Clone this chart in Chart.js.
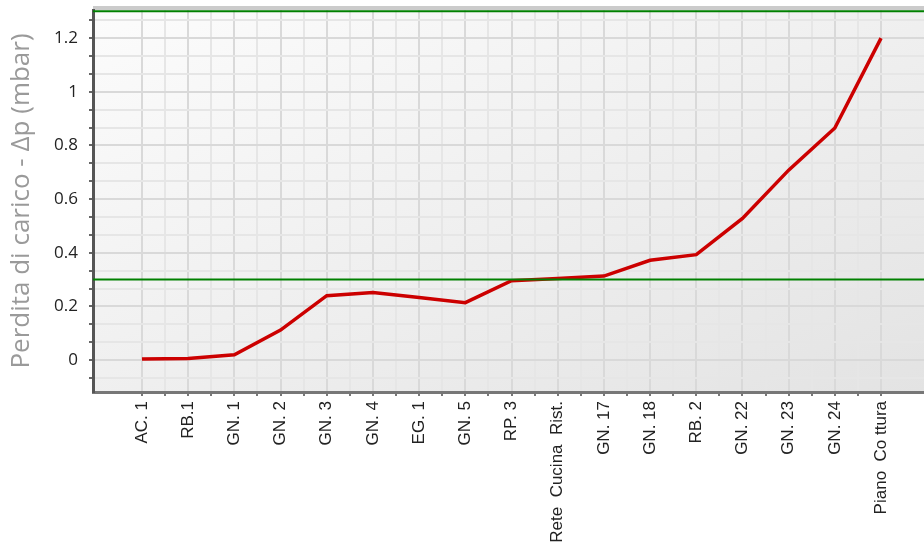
<!DOCTYPE html>
<html>
<head>
<meta charset="utf-8">
<script src="https://cdn.jsdelivr.net/npm/chart.js@4.4.0/dist/chart.umd.min.js"></script>
<style>
  html, body { margin: 0; padding: 0; background: #fff; }
  #wrap { width: 924px; height: 556px; position: relative; }
</style>
</head>
<body>
<div id="wrap"><canvas id="chart"></canvas></div>
<script>
// points along the gas line
var labels = ['AC. 1', 'RB.1', 'GN. 1', 'GN. 2', 'GN. 3', 'GN. 4', 'EG. 1', 'GN. 5', 'RP. 3',
  'Rete  Cucina  Rist.', 'GN. 17', 'GN. 18', 'RB. 2', 'GN. 22', 'GN. 23', 'GN. 24', 'Piano  Co ttura'];
// pressure drop (mbar)
var dropValues = [0.004, 0.006, 0.02, 0.112, 0.24, 0.252, 0.233, 0.214, 0.296,
  0.304, 0.313, 0.372, 0.393, 0.528, 0.708, 0.865, 1.2];
// horizontal limit lines
var limitValues = [0.3, 1.3];
var yTickLabels = ['0', '0.2', '0.4', '0.6', '0.8', '1', '1.2'];

var X_MIN = -1.06, X_MAX = 16.93;
var Y_MIN = -0.119, Y_MAX = 1.305;

var points = dropValues.map(function(v, i) { return { x: i, y: v }; });

var datasets = limitValues.map(function(v) {
  return {
    data: [{ x: X_MIN, y: v }, { x: X_MAX, y: v }],
    borderColor: '#008000',
    borderWidth: 2,
    pointRadius: 0,
    order: 0
  };
});
datasets.push({
  data: points,
  borderColor: '#cc0000',
  borderWidth: 3.5,
  pointRadius: 0,
  tension: 0,
  order: 1
});

var backdrop = {
  id: 'backdrop',
  beforeDraw: function(chart) {
    var a = chart.chartArea, ctx = chart.ctx;
    ctx.save();
    // diagonal shading, corner to corner
    ctx.translate(a.left, a.top);
    ctx.scale(a.right - a.left, a.bottom - a.top);
    var g = ctx.createLinearGradient(0, 0, 1, 1);
    g.addColorStop(0, '#fcfcfc');
    g.addColorStop(1, '#e3e3e3');
    ctx.fillStyle = g;
    ctx.fillRect(0, 0, 1, 1);
    ctx.restore();
    ctx.save();
    ctx.fillStyle = '#cbcbcb';
    ctx.fillRect(a.left, a.top - 4, a.right - a.left, 4);
    ctx.restore();
  }
};

new Chart(document.getElementById('chart'), {
  type: 'line',
  data: { datasets: datasets },
  plugins: [backdrop],
  options: {
    responsive: true,
    maintainAspectRatio: false,
    animation: false,
    layout: { padding: { top: 10, right: 0, bottom: 0, left: 0 } },
    plugins: { legend: { display: false }, tooltip: { enabled: false } },
    scales: {
      x: {
        type: 'linear',
        min: X_MIN,
        max: X_MAX,
        afterBuildTicks: function(scale) {
          var t = [];
          for (var i = 0; i <= (labels.length - 1) * 2; i++) t.push({ value: i / 2 });
          scale.ticks = t;
        },
        afterFit: function(scale) {
          scale.height = 556 - 392;
          scale.paddingLeft = 0;
          scale.paddingRight = 0;
        },
        border: { color: '#777', width: 3 },
        grid: {
          color: function(c) { return c.tick && Number.isInteger(c.tick.value) ? '#d9d9d9' : '#e6e6e6'; },
          lineWidth: 2,
          tickColor: '#777',
          tickLength: 4,
          tickWidth: 2
        },
        ticks: {
          autoSkip: false,
          maxRotation: 90,
          minRotation: 90,
          padding: 5,
          color: '#222',
          font: { family: "'Liberation Sans Narrow', 'Liberation Sans'", size: 17 },
          callback: function(v, i) { return i % 2 === 0 ? labels[i / 2] : ''; }
        }
      },
      y: {
        type: 'linear',
        min: Y_MIN,
        max: Y_MAX,
        afterBuildTicks: function(scale) {
          var t = [];
          for (var i = -1; i <= 19; i++) t.push({ value: i * 0.2 / 3 });
          scale.ticks = t;
        },
        afterFit: function(scale) {
          scale.width = 93;
          scale.paddingTop = 0;
          scale.paddingBottom = 0;
        },
        border: { color: '#555', width: 3 },
        grid: {
          color: function(c) { return c.index % 3 === 1 ? '#d9d9d9' : '#e6e6e6'; },
          lineWidth: 2,
          tickColor: '#666',
          tickLength: 4,
          tickWidth: 2
        },
        ticks: {
          autoSkip: false,
          padding: 11,
          color: '#222',
          font: { family: 'Open Sans', size: 17 },
          callback: function(v, i) { return (i - 1) % 3 === 0 ? yTickLabels[(i - 1) / 3] : ''; }
        },
        title: {
          display: true,
          text: 'Perdita di carico - \u0394p (mbar)',
          color: '#9a9a9a',
          font: { family: 'Open Sans', size: 26 },
          padding: { top: 6, bottom: 2 }
        }
      }
    }
  }
});
</script>
</body>
</html>
